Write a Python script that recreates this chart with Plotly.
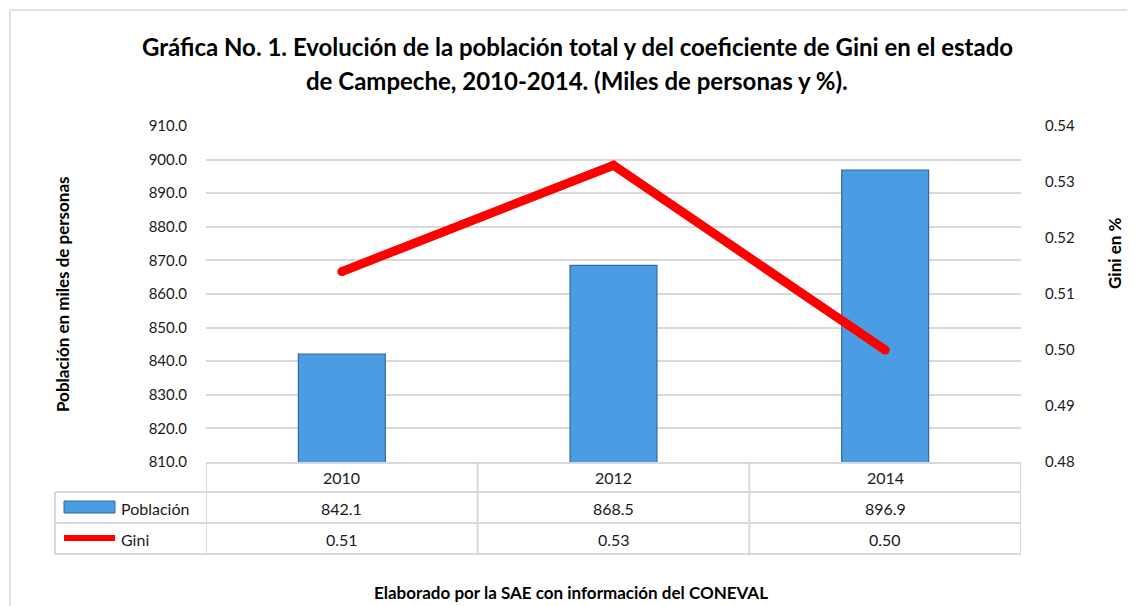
import plotly.graph_objects as go

# ---- data ----
years = ["2010", "2012", "2014"]
poblacion = [842.1, 868.5, 896.9]
gini = [0.514, 0.533, 0.500]
poblacion_labels = ["842.1", "868.5", "896.9"]
gini_labels = ["0.51", "0.53", "0.50"]
title_lines = [
    "Gráfica No. 1. Evolución de la población total y del coeficiente de Gini en el estado",
    "de Campeche, 2010-2014. (Miles de personas y %).",
]
footer = "Elaborado por la SAE con información del CONEVAL"

OFF = 8  # page body margin
W, H = 1135 - OFF, 606 - OFF
L, T = 206 - OFF, 126 - OFF
R = W - (1021 - OFF)
B = H - (462 - OFF)
PW, PH = W - L - R, H - T - B

def px(x):
    return (x - OFF - L) / PW

def py(y):
    return (T + PH - (y - OFF)) / PH

FONT = "Lato"
TXT = "#1a1a1a"
GRID = "#D9D9D9"

fig = go.Figure()
fig.add_trace(go.Bar(
    x=years, y=poblacion, name="Población", width=0.32,
    marker=dict(color="#4A9CE3", line=dict(color="#35689E", width=1.2)),
    yaxis="y",
))
fig.add_trace(go.Scatter(
    x=years, y=gini, name="Gini", mode="lines+markers",
    line=dict(color="#FF0000", width=9),
    marker=dict(color="#FF0000", size=9),
    yaxis="y2",
))

shapes = []
line_style = dict(color=GRID, width=2)
for yy in [492, 523, 554]:
    shapes.append(dict(type="line", xref="paper", yref="paper",
                       x0=px(55), x1=px(1021), y0=py(yy), y1=py(yy), line=line_style))
for xb in [-0.5, 0.5, 1.5, 2.5]:
    shapes.append(dict(type="line", xref="x", yref="paper",
                       x0=xb, x1=xb, y0=py(462), y1=py(554), line=line_style))
shapes.append(dict(type="line", xref="paper", yref="paper",
                   x0=px(55), x1=px(55), y0=py(492), y1=py(554), line=line_style))
shapes.append(dict(type="rect", xref="paper", yref="paper",
                   x0=px(64), x1=px(115), y0=py(513), y1=py(501),
                   fillcolor="#4A9CE3", line=dict(color="#35689E", width=1)))
shapes.append(dict(type="line", xref="paper", yref="paper",
                   x0=px(64), x1=px(115), y0=py(538), y1=py(538),
                   line=dict(color="#FF0000", width=6)))
shapes.append(dict(type="rect", xref="paper", yref="paper",
                   x0=px(10), x1=px(1150), y0=py(10), y1=py(620),
                   line=dict(color="#D9D9D9", width=1.5), fillcolor="rgba(0,0,0,0)",
                   layer="below"))

def ann(text, x, y, size, xref="paper", xanchor="center", angle=0, color=TXT):
    return dict(text=text, xref=xref, yref="paper", x=x, y=y, showarrow=False,
                xanchor=xanchor, yanchor="middle", textangle=angle,
                font=dict(family=FONT, size=size, color=color))

annotations = [
    ann("<b>" + title_lines[0] + "</b>", px(577), py(47), 24, color="#000"),
    ann("<b>" + title_lines[1] + "</b>", px(577), py(80), 24, color="#000"),
]
for i, yr in enumerate(years):
    annotations.append(ann(yr, i, py(477), 16, xref="x"))
    annotations.append(ann(poblacion_labels[i], i, py(508), 16, xref="x"))
    annotations.append(ann(gini_labels[i], i, py(539), 16, xref="x"))
annotations.append(ann("Población", px(119), py(508), 16, xanchor="left"))
annotations.append(ann("Gini", px(119), py(539), 16, xanchor="left"))
annotations.append(ann("<b>Población en miles de personas</b>", px(62), py(295), 17, angle=-90, color="#000"))
annotations.append(ann("<b>Gini en %</b>", px(1114), py(254), 17, angle=-90, color="#000"))
annotations.append(ann("<b>" + footer + "</b>", px(571), py(592), 17, color="#000"))

fig.update_layout(
    width=W, height=H,
    margin=dict(l=L, r=R, t=T, b=B, pad=0),
    paper_bgcolor="white", plot_bgcolor="white",
    showlegend=False,
    font=dict(family=FONT, size=15, color=TXT),
    xaxis=dict(type="category", showticklabels=False, ticks="", showgrid=False,
               showline=True, linecolor=GRID, linewidth=2, mirror=False,
               range=[-0.5, 2.5]),
    yaxis=dict(range=[810, 910], dtick=10, tickformat=".1f", showgrid=True,
               gridcolor=GRID, gridwidth=1.5, zeroline=False, showline=False,
               ticks="outside", ticklen=15, tickcolor="rgba(0,0,0,0)",
               tickfont=dict(family=FONT, size=15, color=TXT)),
    yaxis2=dict(range=[0.48, 0.54], dtick=0.01, tickformat=".2f", overlaying="y",
                side="right", showgrid=False, zeroline=False, showline=False,
                ticks="outside", ticklen=20, tickcolor="rgba(0,0,0,0)",
                tickfont=dict(family=FONT, size=15, color=TXT)),
    shapes=shapes,
    annotations=annotations,
)

fig.write_html("out.html")
